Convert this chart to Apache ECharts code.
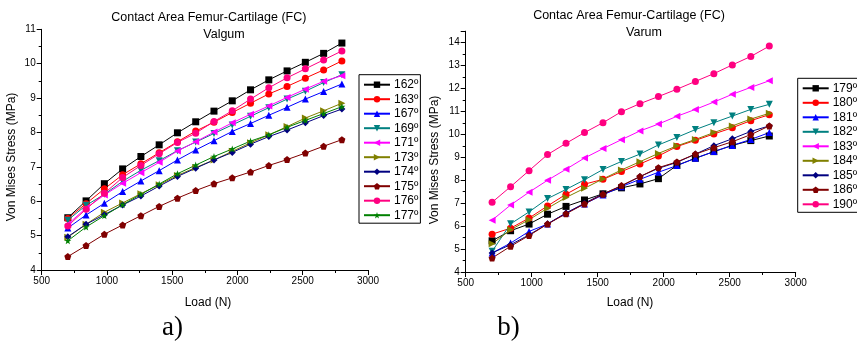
<!DOCTYPE html>
<html>
<head>
<meta charset="utf-8">
<script src="https://cdn.jsdelivr.net/npm/echarts@6/dist/echarts.min.js"></script>
<style>html,body{margin:0;padding:0;background:#fff}#c{width:857px;height:342px}</style>
</head>
<body>
<div id="c"></div>
<script>
// ---------- data ----------
var loads = [700, 840, 980, 1120, 1260, 1400, 1540, 1680, 1820, 1960, 2100, 2240, 2380, 2520, 2660, 2800];
var xTicks = [500, 1000, 1500, 2000, 2500, 3000];

// Valgum (a)
var valgumNames = ['162º', '163º', '167º', '169º', '171º', '173º', '174º', '175º', '176º', '177º'];
var v162 = [5.52, 6.01, 6.51, 6.94, 7.30, 7.64, 7.99, 8.31, 8.62, 8.92, 9.24, 9.53, 9.79, 10.04, 10.30, 10.60];
var v163 = [5.50, 5.93, 6.36, 6.77, 7.09, 7.41, 7.73, 8.04, 8.30, 8.58, 8.85, 9.12, 9.34, 9.58, 9.82, 10.08];
var v167 = [5.22, 5.60, 5.94, 6.28, 6.59, 6.89, 7.20, 7.49, 7.76, 8.03, 8.26, 8.50, 8.73, 8.97, 9.19, 9.41];
var v169 = [5.45, 5.88, 6.20, 6.58, 6.90, 7.18, 7.47, 7.72, 7.97, 8.22, 8.47, 8.72, 8.97, 9.20, 9.45, 9.68];
var v171 = [5.33, 5.80, 6.18, 6.52, 6.83, 7.13, 7.46, 7.73, 8.01, 8.28, 8.53, 8.77, 9.02, 9.26, 9.49, 9.65];
var v173 = [4.95, 5.33, 5.68, 5.95, 6.22, 6.48, 6.75, 6.98, 7.20, 7.45, 7.70, 7.93, 8.17, 8.42, 8.63, 8.85];
var v174 = [4.97, 5.33, 5.61, 5.89, 6.15, 6.44, 6.72, 6.96, 7.20, 7.42, 7.66, 7.88, 8.07, 8.28, 8.49, 8.68];
var v175 = [4.39, 4.71, 5.04, 5.31, 5.58, 5.85, 6.09, 6.31, 6.51, 6.68, 6.85, 7.04, 7.21, 7.40, 7.60, 7.79];
var v176 = [5.28, 5.77, 6.23, 6.69, 7.04, 7.38, 7.71, 7.98, 8.32, 8.63, 8.97, 9.30, 9.59, 9.85, 10.11, 10.37];
var v177 = [4.85, 5.25, 5.58, 5.90, 6.20, 6.50, 6.80, 7.05, 7.30, 7.52, 7.75, 7.93, 8.15, 8.35, 8.55, 8.75];

// Varum (b)
var varumNames = ['179º', '180º', '181º', '182º', '183º', '184º', '185º', '186º', '190º'];
var r179 = [5.36, 5.80, 6.09, 6.52, 6.86, 7.14, 7.41, 7.67, 7.84, 8.07, 8.65, 8.96, 9.25, 9.52, 9.73, 9.93];
var r180 = [5.65, 5.91, 6.35, 6.88, 7.39, 7.83, 8.04, 8.38, 8.71, 9.06, 9.47, 9.74, 10.02, 10.29, 10.60, 10.86];
var r181 = [4.83, 5.26, 5.77, 6.09, 6.57, 6.97, 7.36, 7.72, 8.04, 8.35, 8.64, 8.96, 9.25, 9.52, 9.78, 10.08];
var r182 = [4.90, 6.10, 6.62, 7.20, 7.60, 8.02, 8.47, 8.82, 9.14, 9.54, 9.87, 10.21, 10.51, 10.80, 11.09, 11.31];
var r183 = [6.26, 6.92, 7.48, 8.00, 8.48, 8.97, 9.38, 9.77, 10.15, 10.45, 10.79, 11.09, 11.41, 11.75, 12.05, 12.34];
var r184 = [5.23, 5.84, 6.28, 6.78, 7.25, 7.65, 8.06, 8.45, 8.81, 9.17, 9.50, 9.78, 10.08, 10.37, 10.67, 10.92];
var r185 = [4.83, 5.19, 5.62, 6.10, 6.57, 7.00, 7.41, 7.75, 8.16, 8.52, 8.78, 9.14, 9.51, 9.81, 10.13, 10.37];
var r186 = [4.61, 5.12, 5.59, 6.09, 6.54, 6.97, 7.39, 7.77, 8.16, 8.55, 8.80, 9.14, 9.42, 9.68, 9.99, 10.37];
var r190 = [7.04, 7.72, 8.42, 9.12, 9.61, 10.08, 10.51, 10.99, 11.34, 11.65, 11.97, 12.31, 12.65, 13.03, 13.40, 13.85];

var titleA = 'Contact Area Femur-Cartilage (FC)', subA = 'Valgum';
var titleB = 'Contac Area Femur-Cartilage (FC)', subB = 'Varum';
var xName = 'Load (N)', yName = 'Von Mises Stress (MPa)';

// ---------- styles ----------
var FONT = '"Liberation Sans", Arial, sans-serif';
var SYM = {
  square: 'rect',
  circle: 'circle',
  up: 'path://M5,0 L10,10 L0,10 Z',
  down: 'path://M0,0 L10,0 L5,10 Z',
  left: 'path://M0,5 L10,0 L10,10 Z',
  right: 'path://M0,0 L10,5 L0,10 Z',
  diamond: 'path://M5,0 L10,5 L5,10 L0,5 Z',
  pentagon: 'path://M5,0 L9.755,3.455 L7.939,9.045 L2.061,9.045 L0.245,3.455 Z',
  star: 'path://M5,0 L6.176,3.382 L9.755,3.455 L6.902,5.618 L7.939,9.045 L5,7 L2.061,9.045 L3.098,5.618 L0.245,3.455 L3.824,3.382 Z'
};

var valgumData = [v162, v163, v167, v169, v171, v173, v174, v175, v176, v177];
var valgumColors = ['#000000', '#ff0000', '#0000ff', '#008080', '#ff00ff', '#808000', '#000080', '#800000', '#ff0080', '#008000'];
var valgumSyms = [SYM.square, SYM.circle, SYM.up, SYM.down, SYM.left, SYM.right, SYM.diamond, SYM.pentagon, SYM.circle, SYM.star];

var varumData = [r179, r180, r181, r182, r183, r184, r185, r186, r190];
var varumColors = ['#000000', '#ff0000', '#0000ff', '#008080', '#ff00ff', '#808000', '#000080', '#800000', '#ff0080'];
var varumSyms = [SYM.square, SYM.circle, SYM.up, SYM.down, SYM.left, SYM.right, SYM.diamond, SYM.pentagon, SYM.circle];

function mkSeries(names, data, colors, syms, axisIdx) {
  return names.map(function (n, i) {
    return {
      name: n, type: 'line', xAxisIndex: axisIdx, yAxisIndex: axisIdx,
      data: loads.map(function (x, j) { return [x, data[i][j]]; }),
      symbol: syms[i], symbolSize: 7, showSymbol: true, animation: false,
      lineStyle: { color: colors[i], width: 1 },
      itemStyle: { color: colors[i] },
      emphasis: { disabled: true }
    };
  });
}

function xAxisCfg(gi) {
  return {
    type: 'value', gridIndex: gi, min: 500, max: 3000, interval: 500,
    axisLine: { show: true, onZero: false, lineStyle: { color: '#000', width: 1 } },
    axisTick: { show: true, length: 5, lineStyle: { color: '#000' } },
    minorTick: { show: true, splitNumber: 2, length: 3, lineStyle: { color: '#000' } },
    splitLine: { show: false },
    axisLabel: { color: '#000', fontSize: 10, fontFamily: FONT, margin: 6,
      formatter: function (v) { return xTicks.indexOf(v) >= 0 ? String(v) : ''; } }
  };
}
function yAxisCfg(gi, max, minor) {
  return {
    type: 'value', gridIndex: gi, min: 4, max: max, interval: 1, position: 'left',
    axisLine: { show: true, onZero: false, lineStyle: { color: '#000', width: 1 } },
    axisTick: { show: true, length: 5, lineStyle: { color: '#000' } },
    minorTick: { show: minor, splitNumber: 2, length: 3, lineStyle: { color: '#000' } },
    splitLine: { show: false },
    axisLabel: { color: '#000', fontSize: 10, fontFamily: FONT, margin: 6,
      formatter: function (v) { return Number.isInteger(v) ? String(v) : ''; } }
  };
}

function txt(x, y, t, size, opts) {
  opts = opts || {};
  return {
    type: 'text', x: x, y: y, rotation: opts.rot || 0, silent: true,
    style: { text: t, fill: '#000', font: (size) + 'px ' + (opts.family || FONT),
      textAlign: 'center', textVerticalAlign: 'middle' }
  };
}

var legendCommon = {
  orient: 'vertical', itemWidth: 26, itemHeight: 8, itemGap: 0.5,
  borderColor: '#000', borderWidth: 1, borderRadius: 0,
  padding: [3, 2, 1, 4],
  textStyle: { color: '#000', fontSize: 12, fontFamily: FONT, lineHeight: 14, padding: [0, 0, 0, -1] },
  selectedMode: false
};

var rightMinor = {
  type: 'value', gridIndex: 1, min: 4, max: 14.5, interval: 0.5, position: 'left',
  axisLine: { show: false }, axisLabel: { show: false }, splitLine: { show: false },
  axisTick: { show: true, length: 3, lineStyle: { color: '#000' } }
};

var option = {
  backgroundColor: '#fff',
  animation: false,
  grid: [
    { left: 41.7, top: 29.3, width: 326.3, height: 240.7 },
    { left: 465.7, top: 31.2, width: 330, height: 240.8 }
  ],
  xAxis: [xAxisCfg(0), xAxisCfg(1)],
  yAxis: [yAxisCfg(0, 11, true), yAxisCfg(1, 14.5, false), rightMinor],
  legend: [
    Object.assign({}, legendCommon, { left: 359, top: 74.7, data: valgumNames }),
    Object.assign({}, legendCommon, { left: 797.7, top: 78.3, data: varumNames })
  ],
  series: mkSeries(valgumNames, valgumData, valgumColors, valgumSyms, 0)
    .concat(mkSeries(varumNames, varumData, varumColors, varumSyms, 1)),
  graphic: [
    txt(208.8, 18, titleA, 12.5),
    txt(224, 35, subA, 12.5),
    txt(629, 16, titleB, 12.5),
    txt(644, 33, subB, 12.5),
    txt(208, 303, xName, 12),
    txt(630, 303, xName, 12),
    txt(12, 157, yName, 12, { rot: Math.PI / 2 }),
    txt(435, 160, yName, 12, { rot: Math.PI / 2 }),
    txt(172.5, 328, 'a)', 27, { family: '"Liberation Serif", "Times New Roman", serif' }),
    txt(508.5, 328, 'b)', 27, { family: '"Liberation Serif", "Times New Roman", serif' })
  ]
};

var chart = echarts.init(document.getElementById('c'), null, { renderer: 'canvas' });
chart.setOption(option);
</script>
</body>
</html>
